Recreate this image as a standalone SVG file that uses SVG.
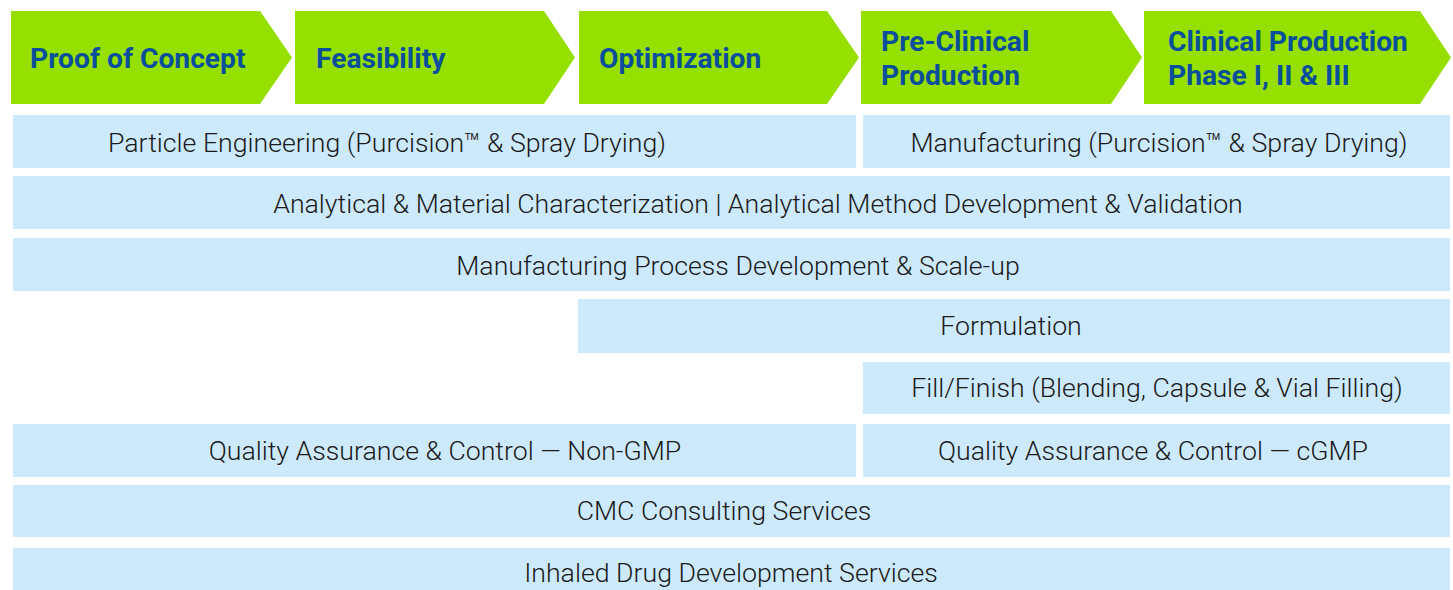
<svg xmlns="http://www.w3.org/2000/svg" width="1453" height="590" viewBox="0 0 1453 590">
<style>
.chev{fill:#95e000}
.bar{fill:#cdeafc}
.ht{font-family:Roboto,"Liberation Sans",sans-serif;font-weight:700;font-size:28.2px;fill:#0b4f9c}
.bt{font-family:Roboto,"Liberation Sans",sans-serif;font-weight:300;font-size:26.7px;fill:#1a1a1a;text-anchor:middle}
</style>
<rect width="1453" height="590" fill="#ffffff"/>
<g id="stage-proof">
<polygon class="chev" points="11,11 260,11 292,57.5 260,104 11,104"/>
<text class="ht" x="30" y="68">Proof of Concept</text>
</g>
<g id="stage-feasibility">
<polygon class="chev" points="295,11 544,11 575,57.5 544,104 295,104"/>
<text class="ht" x="316" y="68">Feasibility</text>
</g>
<g id="stage-optimization">
<polygon class="chev" points="579,11 827,11 859,57.5 827,104 579,104"/>
<text class="ht" x="599" y="68">Optimization</text>
</g>
<g id="stage-preclinical">
<polygon class="chev" points="861,11 1111,11 1142,57.5 1111,104 861,104"/>
<text class="ht" x="881" y="51">Pre-Clinical</text>
<text class="ht" x="881" y="85">Production</text>
</g>
<g id="stage-clinical">
<polygon class="chev" points="1144,11 1420,11 1451,57.5 1420,104 1144,104"/>
<text class="ht" x="1168" y="51">Clinical Production</text>
<text class="ht" x="1168" y="85">Phase I, II &amp; III</text>
</g>
<g id="particle-engineering">
<rect class="bar" x="13" y="115" width="843" height="53"/>
<text class="bt" x="387" y="152">Particle Engineering (Purcision™ &amp; Spray Drying)</text>
</g>
<g id="manufacturing">
<rect class="bar" x="863" y="115" width="587" height="53"/>
<text class="bt" x="1159" y="152">Manufacturing (Purcision™ &amp; Spray Drying)</text>
</g>
<g id="analytical">
<rect class="bar" x="13" y="176" width="1437" height="53"/>
<text class="bt" x="758" y="213">Analytical &amp; Material Characterization | Analytical Method Development &amp; Validation</text>
</g>
<g id="process-dev">
<rect class="bar" x="13" y="238" width="1437" height="53"/>
<text class="bt" x="738" y="275">Manufacturing Process Development &amp; Scale-up</text>
</g>
<g id="formulation">
<rect class="bar" x="578" y="299" width="872" height="54"/>
<text class="bt" x="1011" y="335">Formulation</text>
</g>
<g id="fill-finish">
<rect class="bar" x="863" y="362" width="587" height="52"/>
<text class="bt" x="1157" y="397">Fill/Finish (Blending, Capsule &amp; Vial Filling)</text>
</g>
<g id="qa-nongmp">
<rect class="bar" x="13" y="424" width="843" height="53"/>
<text class="bt" x="445" y="460">Quality Assurance &amp; Control — Non-GMP</text>
</g>
<g id="qa-cgmp">
<rect class="bar" x="863" y="424" width="587" height="53"/>
<text class="bt" x="1153" y="460">Quality Assurance &amp; Control — cGMP</text>
</g>
<g id="cmc">
<rect class="bar" x="13" y="485" width="1437" height="52"/>
<text class="bt" x="724" y="520">CMC Consulting Services</text>
</g>
<g id="inhaled">
<rect class="bar" x="13" y="548" width="1437" height="53"/>
<text class="bt" x="731" y="582">Inhaled Drug Development Services</text>
</g>
<g id="connectors"/>
</svg>
